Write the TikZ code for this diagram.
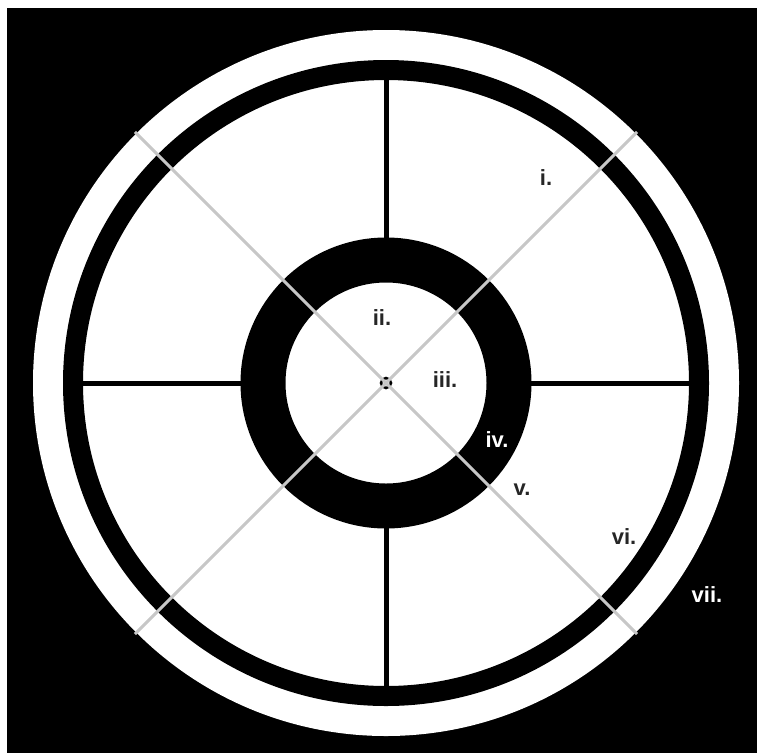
\documentclass[tikz,border=0pt]{standalone}
\usepackage{fontspec}
\setmainfont{Liberation Sans}
\usetikzlibrary{positioning,calc}

\begin{document}
\begin{tikzpicture}[x=1pt,y=-1pt,
  spoke/.style={line width=5pt},
  guide/.style={line width=3pt,color=black!22},
  lbl/.style={font=\fontsize{22}{24}\selectfont\bfseries,text=black!85,inner sep=0pt,anchor=base},
  lblw/.style={lbl,text=white}]
\useasboundingbox[fill=white] (0,0) rectangle (757,753);
\fill[black] (7,8) rectangle (757,753);
\coordinate (c) at (386,383);
% rings
\fill[white] (c) circle[radius=353];
\draw[line width=20pt] (c) circle[radius=313];
\draw[line width=45pt] (c) circle[radius=123];
\draw[line width=2.5pt] (c) circle[radius=5];
% spokes
\foreach \a in {0,90,180,270}
  \draw[spoke] ($(c)+(\a:144)$) -- ($(c)+(\a:305)$);
% diagonals
\foreach \a in {45,135}
  \draw[guide] ($(c)+(\a:355)$) -- ($(c)+(\a+180:355)$);
% labels
\node[lbl] (li) at (546,185) {i.};
\node[lbl] (lii) at (382,325) {ii.};
\node[lbl] (liii) at (445,387) {iii.};
\node[lblw] (liv) at (497,447) {iv.};
\node[lbl] (lv) at (522,495) {v.};
\node[lbl] (lvi) at (624,544) {vi.};
\node[lblw] (lvii) at (707,602) {vii.};
\end{tikzpicture}
\end{document}
